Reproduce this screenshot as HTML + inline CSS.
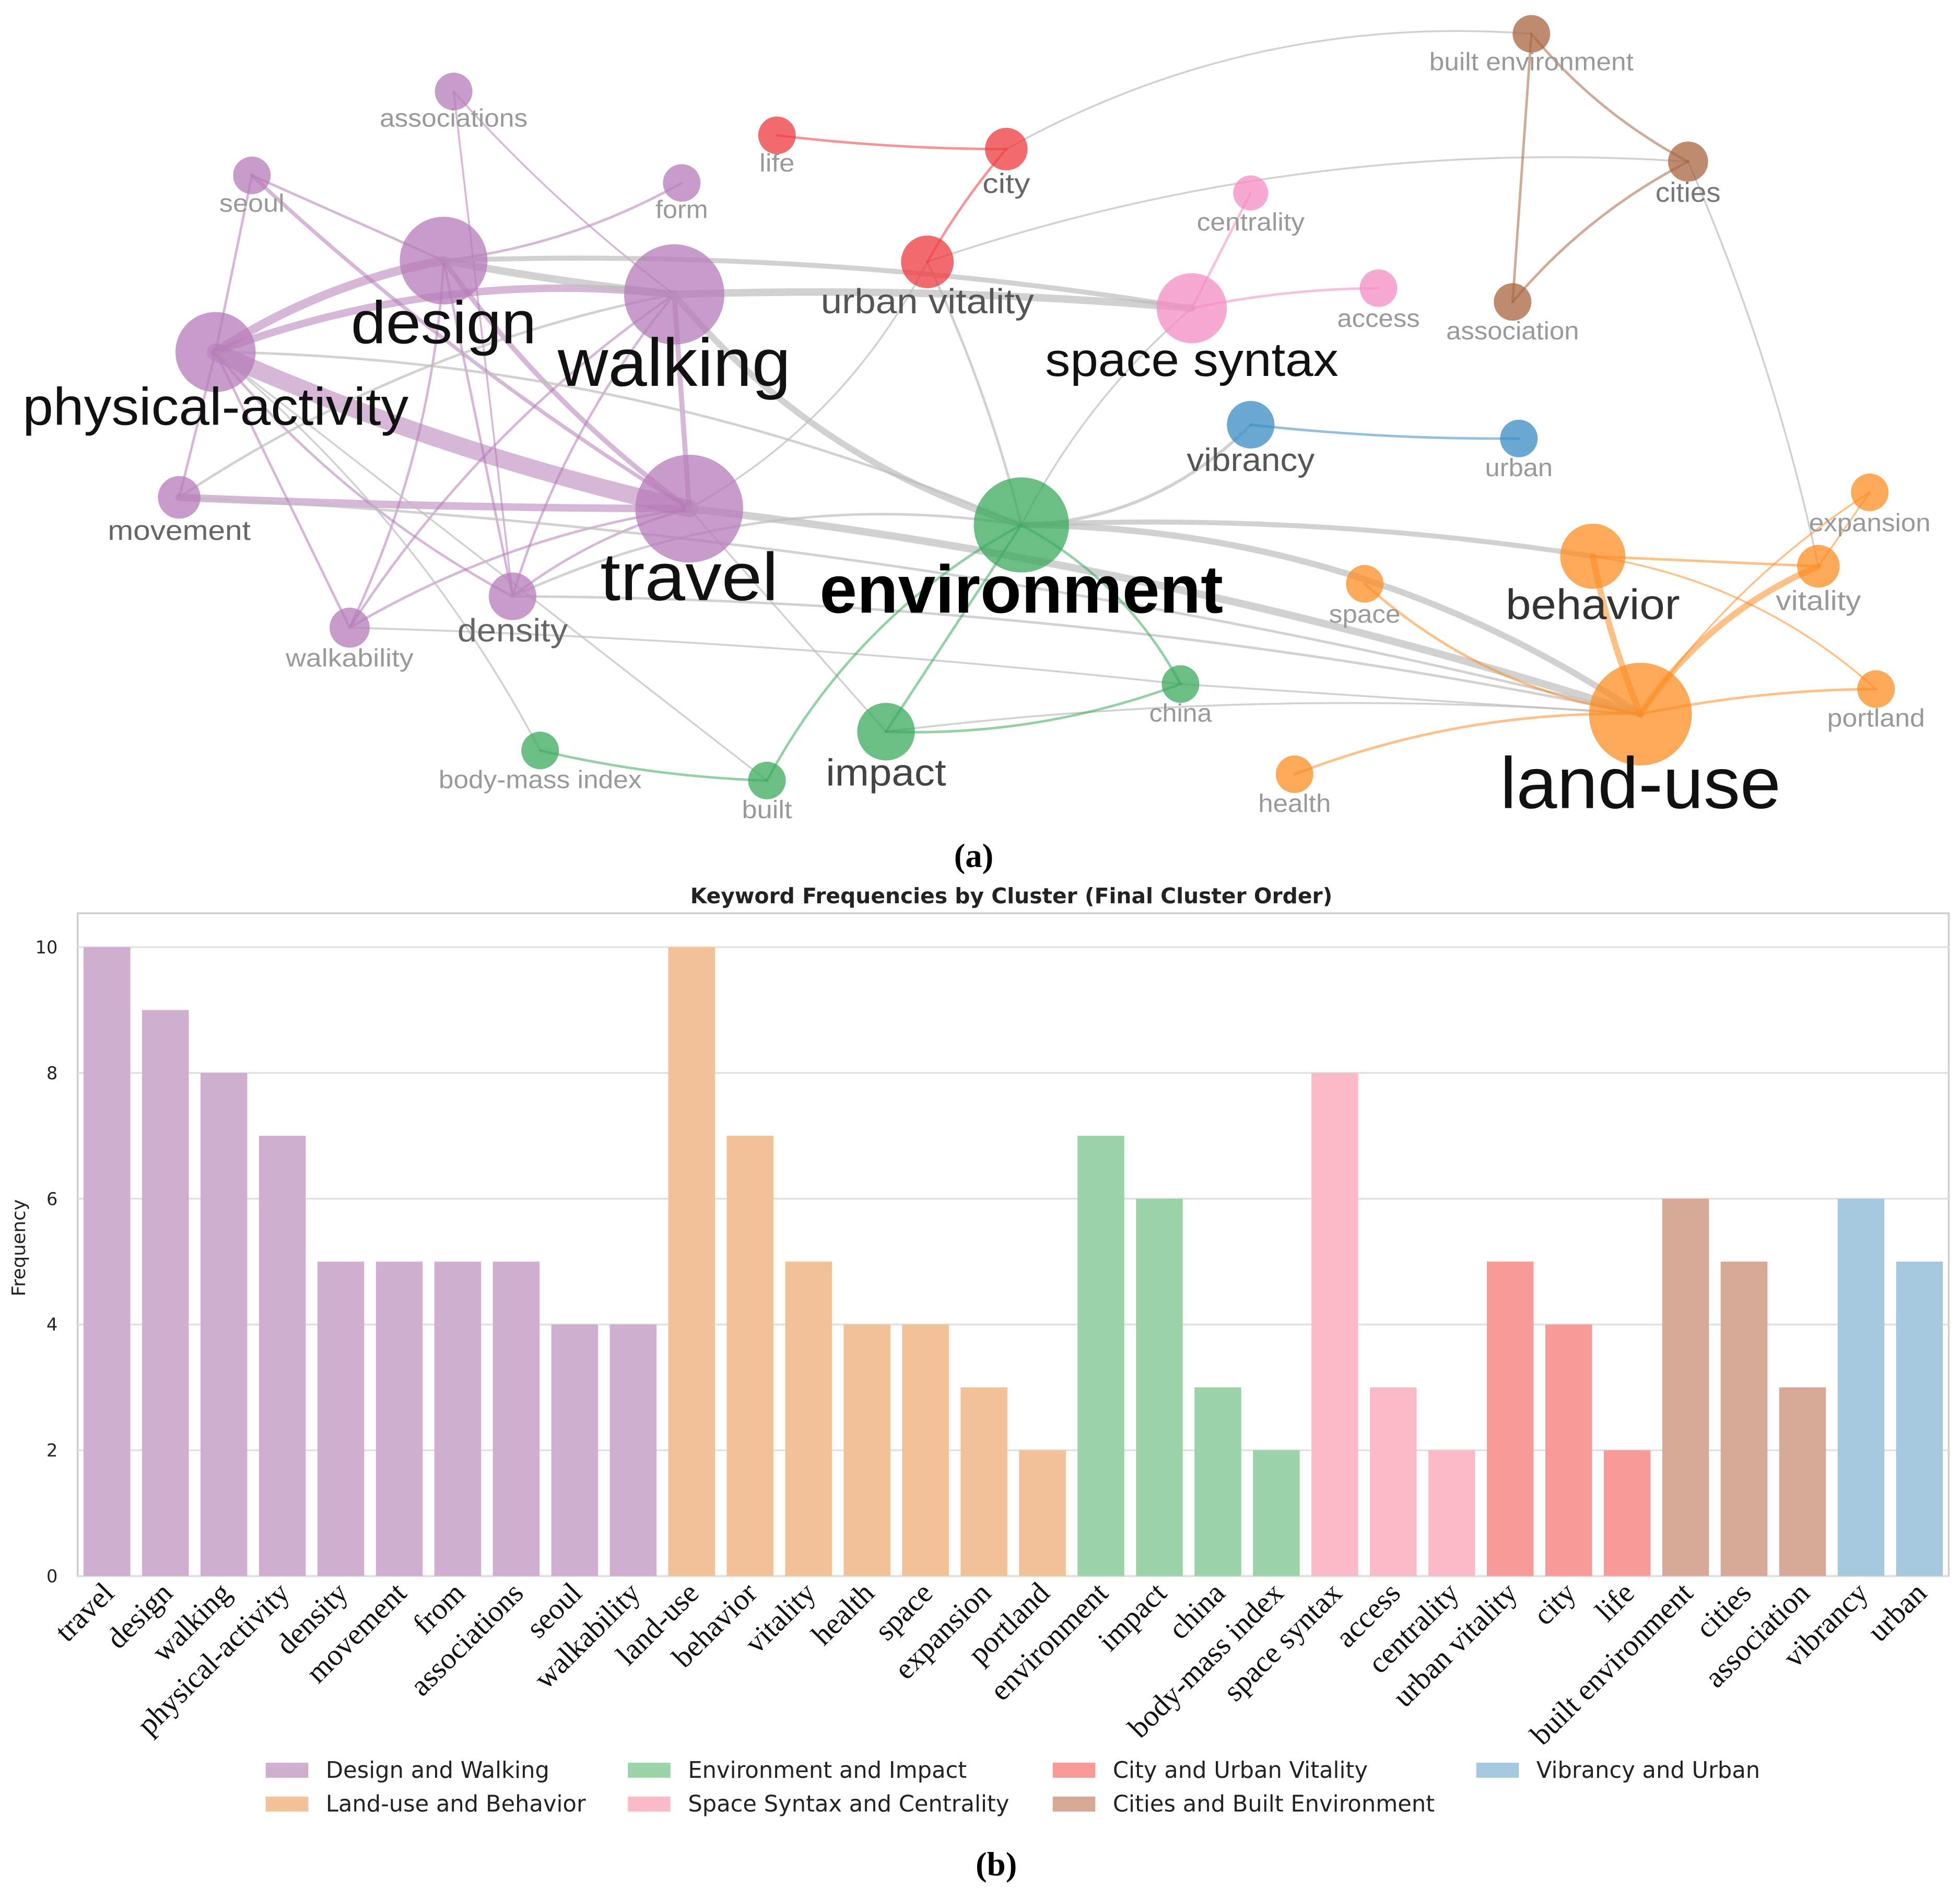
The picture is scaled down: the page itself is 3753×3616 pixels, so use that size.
<!DOCTYPE html>
<html><head><meta charset="utf-8"><style>
html,body{margin:0;padding:0;background:#fff;}
svg{display:block;}
</style></head><body>
<svg id="fig" xmlns="http://www.w3.org/2000/svg" width="3753" height="3616" viewBox="0 0 1564 1507" preserveAspectRatio="none">
<g id="net"></g>
<text x="777" y="692" text-anchor="middle" font-family="Liberation Serif, serif" font-weight="bold" font-size="27">(a)</text>
<text x="807" y="721" text-anchor="middle" font-family="DejaVu Sans, sans-serif" font-weight="bold" font-size="17" fill="#222">Keyword Frequencies by Cluster (Final Cluster Order)</text>
<g id="bar"></g>
<text x="795" y="1497" text-anchor="middle" font-family="Liberation Serif, serif" font-weight="bold" font-size="27">(b)</text>
</svg>
<script>
// ---------- Bar chart data ----------
const categories = ["travel","design","walking","physical-activity","density","movement","from","associations","seoul","walkability","land-use","behavior","vitality","health","space","expansion","portland","environment","impact","china","body-mass index","space syntax","access","centrality","urban vitality","city","life","built environment","cities","association","vibrancy","urban"];
const frequencies = [10,9,8,7,5,5,5,5,4,4,10,7,5,4,4,3,2,7,6,3,2,8,3,2,5,4,2,6,5,3,6,5];
const clusterOf = [0,0,0,0,0,0,0,0,0,0,1,1,1,1,1,1,1,2,2,2,2,3,3,3,4,4,4,5,5,5,6,6];
const clusterNames = ["Design and Walking","Land-use and Behavior","Environment and Impact","Space Syntax and Centrality","City and Urban Vitality","Cities and Built Environment","Vibrancy and Urban"];
const clusterColors = ["#d0aed0","#f3c298","#9dd3a8","#fbbac8","#f89a98","#d8a896","#a6c8df"];
const yTicks = [0,2,4,6,8,10];

const NS="http://www.w3.org/2000/svg";
function mk(tag,attrs,parent){const e=document.createElementNS(NS,tag);for(const k in attrs)e.setAttribute(k,attrs[k]);parent.appendChild(e);return e;}

const bar=document.getElementById('bar');
const X0=62,X1=1555,Y0=1258,Ytop=729,Y10=756;
const step=(X1-X0)/categories.length;
const xc=i=>X0+step*(i+0.5);
const ys=v=>Y0-(Y0-Y10)*v/10;
const frame=mk('rect',{x:X0,y:Ytop,width:X1-X0,height:Y0-Ytop,fill:'none',stroke:'#cfcfcf','stroke-width':1.5},bar);


yTicks.forEach(t=>{
  const g=mk('line',{x1:X0,x2:X1,y1:ys(t),y2:ys(t),stroke:'#dedede','stroke-width':1.3},bar);
  
  
  const l=mk('text',{x:46,y:ys(t)+5,'text-anchor':'end','font-family':'DejaVu Sans, sans-serif','font-size':14,fill:'#222'},bar);
  l.textContent=t;
  
  
});
const yt=mk('text',{x:0,y:0,transform:'translate(20,996) rotate(-90)','text-anchor':'middle','font-family':'DejaVu Sans, sans-serif','font-size':15,fill:'#222'},bar);
yt.textContent='Frequency';


const bw=step*0.8;
categories.forEach((c,i)=>{
  const r=mk('rect',{x:xc(i)-bw/2,y:ys(frequencies[i]),width:bw,height:Y0-ys(frequencies[i]),fill:clusterColors[clusterOf[i]]},bar);
  
  
  const t=mk('text',{x:0,y:0,transform:`translate(${xc(i)+7},${Y0+15}) rotate(-45)`,'text-anchor':'end','font-family':'Liberation Serif, serif','font-size':24,fill:'#111'},bar);
  t.textContent=c;
  
  
});
// legend
const legX=[212,501,840,1178];
clusterNames.forEach((n,k)=>{
  const col=Math.floor(k/2),row=k%2;
  const lx=legX[col],ly=1413+row*27;
  const sw=mk('rect',{x:lx,y:ly-6,width:34,height:12,fill:clusterColors[k]},bar);
  
  
  const t=mk('text',{x:lx+48,y:ly+6,'font-family':'DejaVu Sans, sans-serif','font-size':18,fill:'#222'},bar);
  t.textContent=n;
  
  
});

// ---------- Network ----------
const net=document.getElementById('net');
const C={p:'#b57bb8',r:'#ee3b3f',k:'#f38cc1',b:'#a8643f',u:'#3a8cc4',g:'#3aaa5c',o:'#fb8c23'};
// [name, x, y, r, color, labelY, fontSize, labelColor, bold, labelWidth]
const nodes=[
["associations",362,73,15,'p',101,20,'#999',0,118],
["seoul",201,140,15,'p',169,20,'#999',0,52],
["form",544,146,15,'p',174,20,'#999',0,42],
["design",354,208,35,'p',274,48,'#111',0,148],
["walking",538,235,40,'p',308,54,'#111',0,186],
["physical-activity",172,281,32,'p',339,42,'#111',0,308],
["movement",143,397,17,'p',431,22,'#666',0,114],
["travel",550,406,43,'p',479,54,'#111',0,142],
["density",409,476,19,'p',512,26,'#666',0,88],
["walkability",279,501,16,'p',532,20,'#999',0,102],
["life",620,108,15,'r',137,20,'#999',0,28],
["city",803,119,17,'r',154,22,'#666',0,38],
["urban vitality",740,209,21,'r',250,28,'#555',0,170],
["centrality",998,154,14,'k',184,20,'#999',0,86],
["access",1100,230,15,'k',261,20,'#999',0,66],
["space syntax",951,246,28,'k',300,38,'#111',0,234],
["built environment",1222,27,15,'b',56,20,'#999',0,163],
["cities",1347,129,16,'b',161,22,'#777',0,52],
["association",1207,241,15,'b',271,20,'#999',0,106],
["vibrancy",998,339,19,'u',376,26,'#555',0,102],
["urban",1212,350,15,'u',380,20,'#999',0,54],
["environment",815,419,38,'g',489,54,'#000',1,322],
["china",942,546,15,'g',576,20,'#999',0,50],
["impact",707,584,23,'g',627,30,'#444',0,96],
["body-mass index",431,599,15,'g',629,20,'#999',0,162],
["built",612,623,15,'g',653,20,'#999',0,40],
["expansion",1492,393,15,'o',424,20,'#999',0,97],
["behavior",1271,444,26,'o',494,34,'#333',0,139],
["space",1089,466,15,'o',497,20,'#999',0,57],
["vitality",1451,452,17,'o',487,22,'#999',0,68],
["portland",1497,550,15,'o',580,20,'#999',0,78],
["land-use",1309,570,41,'o',645,58,'#111',0,224],
["health",1033,618,15,'o',648,20,'#999',0,58]
];
// [from, to, width, colorKey or 'gray', bend]
const edges=[
["physical-activity","design",7,'p',-0.1],["physical-activity","walking",6,'p',-0.12],["physical-activity","travel",14,'p',0.05],
["physical-activity","seoul",2,'p',0],["physical-activity","movement",2,'p',0],["physical-activity","density",2,'p',0.1],["physical-activity","walkability",2,'p',0],
["design","travel",4,'p',0.08],["design","walking",6,'gray',0.02],["design","form",2,'p',0.1],["design","seoul",2,'p',0],["seoul","travel",3,'p',0.05],
["associations","density",1.5,'p',0],["associations","walking",1.5,'p',0.05],["movement","travel",6,'p',0.01],["walkability","walking",2,'p',-0.1],["walkability","travel",2,'p',-0.1],
["walkability","design",2,'p',0.1],["density","design",2,'p',0],["density","walking",2,'p',-0.1],["density","travel",2,'p',-0.1],["travel","walking",4,'p',0],
["walking","space syntax",6,'gray',-0.03],["design","space syntax",4,'gray',-0.05],["walking","environment",5,'gray',0.15],["travel","land-use",6,'gray',-0.05],
["environment","land-use",5,'gray',-0.15],["environment","behavior",4,'gray',-0.05],["environment","vibrancy",2.5,'gray',0.2],["environment","urban vitality",2,'gray',0.05],
["density","environment",2,'gray',-0.15],["travel","urban vitality",1.5,'gray',0.15],["walkability","china",1.5,'gray',-0.02],["movement","land-use",2,'gray',-0.05],
["city","built environment",1.5,'gray',-0.15],["urban vitality","cities",1.5,'gray',-0.1],["cities","vitality",1.5,'gray',-0.05],["physical-activity","environment",2,'gray',-0.1],
["body-mass index","physical-activity",1.5,'gray',0.1],["built","physical-activity",1.5,'gray',0],["impact","land-use",1.5,'gray',-0.05],["china","land-use",1.5,'gray',0],
["density","land-use",2,'gray',-0.05],["space syntax","environment",1.5,'gray',0.1],["movement","walking",2,'gray',-0.1],["impact","travel",1.5,'gray',0],
["life","city",2,'r',0.03],["city","urban vitality",2,'r',0.05],["centrality","space syntax",2,'k',0],["access","space syntax",2,'k',0.05],
["built environment","cities",2,'b',0.1],["built environment","association",2,'b',0],["cities","association",2,'b',0.1],["vibrancy","urban",2,'u',0.03],
["environment","impact",2,'g',0],["environment","china",2,'g',-0.15],["environment","built",2,'g',0.15],["impact","china",2,'g',0.1],["body-mass index","built",2,'g',0.05],
["behavior","land-use",5,'o',0.05],["behavior","vitality",2,'o',0],["behavior","portland",1.5,'o',-0.15],["vitality","land-use",5,'o',0.15],["vitality","expansion",1.5,'o',0],
["expansion","land-use",1.5,'o',0.1],["portland","land-use",2,'o',0.05],["space","land-use",2,'o',0.15],["health","land-use",2,'o',-0.1]
];
const idx={};nodes.forEach(n=>idx[n[0]]=n);
const eg=mk('g',{},net);
edges.forEach(e=>{
  const a=idx[e[0]],b=idx[e[1]];
  const dx=b[1]-a[1],dy=b[2]-a[2];
  const mx=(a[1]+b[1])/2 - dy*e[4], my=(a[2]+b[2])/2 + dx*e[4];
  const col=e[3]==='gray'?'#bdbdbd':C[e[3]];
  const p=mk('path',{d:`M${a[1]},${a[2]} Q${mx},${my} ${b[1]},${b[2]}`,fill:'none',stroke:col,'stroke-width':e[2],'stroke-opacity':e[3]==='gray'?0.7:0.55,'stroke-linecap':'round'},eg);
  
  
});
const ng=mk('g',{},net);
nodes.forEach(n=>{
  const c=mk('circle',{cx:n[1],cy:n[2],r:n[3],fill:C[n[4]],'fill-opacity':0.75},ng);
  
  
});
const lg=mk('g',{},net);
nodes.forEach(n=>{
  const t=mk('text',{x:n[1],y:n[5],'text-anchor':'middle','font-family':'Liberation Sans, sans-serif','font-size':n[6],fill:n[7],'font-weight':n[8]?'bold':'normal',textLength:n[9],lengthAdjust:'spacingAndGlyphs'},lg);
  t.textContent=n[0];
  
  
});
</script>
</body></html>
